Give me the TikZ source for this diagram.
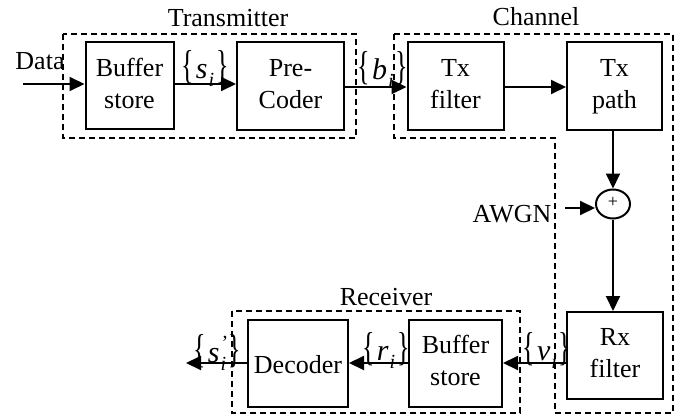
\documentclass[tikz,border=0pt]{standalone}
\usepackage{fontspec}
\usepackage{graphicx}
\setmainfont{Liberation Serif}
\usetikzlibrary{arrows.meta,shapes.geometric}

% tall braces around an italic symbol with subscript (and optional prime)
\newcommand{\tallbrace}[1]{\scalebox{1}[1.55]{#1}}
\newcommand{\symbolletter}[1]{{\fontsize{30}{30}\selectfont\textit{#1}}}
\newcommand{\subidx}[1]{\raisebox{-8pt}{\fontsize{20}{20}\selectfont\textit{#1}}}
\newcommand{\seqof}[2]{\tallbrace{\{}\kern2pt\symbolletter{#1}\kern1pt\subidx{#2}\kern2pt\tallbrace{\}}}
\newcommand{\seqprime}[2]{\tallbrace{\{}\kern2pt\symbolletter{#1}\kern1pt\makebox[0pt][l]{\raisebox{13pt}{\fontsize{20}{20}\selectfont\kern1pt'}}\subidx{#2}\kern2pt\tallbrace{\}}}
% two centred lines with fixed line metrics
\newcommand{\twoline}[2]{#1\strut\\#2\strut}

\begin{document}
\begin{tikzpicture}[x=1pt,y=-1pt,
  font=\fontsize{26}{32}\selectfont,
  block/.style={draw,line width=2pt,align=center,inner sep=0pt},
  group/.style={draw,line width=1.6pt,dash pattern=on 6pt off 4pt},
  sig/.style={line width=2pt,-{Triangle[length=15pt,width=14pt]}},
  title/.style={inner sep=0pt,anchor=base},
  seqlabel/.style={inner sep=0pt,anchor=base}]
\useasboundingbox (0,0) rectangle (681,420);

% transmitter
\draw[group] (63,34) rectangle (356,138);
\node[title] (ttx) at (228,27) {Transmitter};
\node[block,minimum width=88pt,minimum height=87pt] (buf) at (129.5,86) {\twoline{Buffer}{store}};
\node[block,minimum width=107pt,minimum height=88pt] (pre) at (290.5,86) {\twoline{Pre-}{Coder}};

% channel
\draw[group] (394,34) -- (673,34) -- (673,413) -- (555,413) -- (555,138) -- (394,138) -- cycle;
\node[title] (tch) at (536,26) {Channel};
\node[block,minimum width=96pt,minimum height=88pt] (txf) at (455.5,86) {\twoline{Tx}{filter}};
\node[block,minimum width=95pt,minimum height=88pt] (txp) at (614.5,86) {\twoline{Tx}{path}};
\node[draw,line width=2pt,ellipse,minimum width=34pt,minimum height=29pt,inner sep=0pt] (sum) at (613,204) {};
\node[inner sep=0pt,font=\fontsize{18}{18}\selectfont] (plus) at (613,202) {+};
\node[title] (awgn) at (512,222) {AWGN};
\node[block,minimum width=96pt,minimum height=87pt] (rxf) at (615,355.5) {\twoline{Rx}{filter}};

% receiver
\draw[group] (232,311) rectangle (520,413);
\node[title] (trx) at (386,305) {Receiver};
\node[block,minimum width=93pt,minimum height=87pt] (rbuf) at (455.5,363.5) {\twoline{Buffer}{store}};
\node[block,minimum width=100pt,minimum height=87pt] (dec) at (298,363.5) {\raisebox{-4pt}{Decoder}\strut};

% free ends
\coordinate (din) at (23,84);
\coordinate (nin) at (565,208);
\coordinate (dout) at (186,363);
\node[title] (data) at (40,70) {Data};

% signal path
\draw[sig] (din) -- (din -| buf.west);
\draw[sig] (buf.east |- 0,84) -- (pre.west |- 0,84);
\draw[sig] (pre.east |- 0,87) -- (txf.west |- 0,87);
\draw[sig] (txf.east |- 0,87) -- (txp.west |- 0,87);
\draw[sig] (txp.south -| sum.north) -- (sum.north);
\draw[sig] (nin) -- (sum.west |- nin);
\draw[sig] (sum.south) -- (sum.south |- rxf.north);
\draw[sig] (rxf.west |- 0,363) -- (rbuf.east |- 0,363);
\draw[sig] (rbuf.west |- 0,363) -- (dec.east |- 0,363);
\draw[sig] (dec.west |- 0,363) -- (dout);

% sequence labels
\node[seqlabel] (ls) at (205,79) {\seqof{s}{i}};
\node[seqlabel] (lb) at (383,80) {\seqof{b}{i}};
\node[seqlabel] (lv) at (547,360) {\seqof{v}{i}};
\node[seqlabel] (lr) at (386,360) {\seqof{r}{i}};
\node[seqlabel] (lsp) at (217,362) {\seqprime{s}{i}};
\end{tikzpicture}
\end{document}
